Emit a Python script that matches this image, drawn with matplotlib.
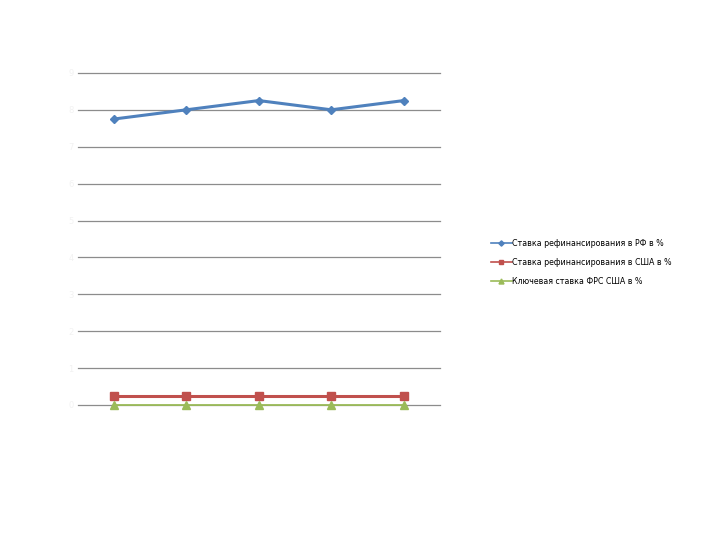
import matplotlib
matplotlib.use("Agg")
import matplotlib.pyplot as plt

categories = ["1", "2", "3", "4", "5"]
rf_rate = [7.75, 8.0, 8.25, 8.0, 8.25]
us_rate = [0.25, 0.25, 0.25, 0.25, 0.25]
frs_rate = [0.0, 0.0, 0.0, 0.0, 0.0]
yticks = list(range(0, 10))

labels = ["Ставка рефинансирования в РФ в %",
          "Ставка рефинансирования в США в %",
          "Ключевая ставка ФРС США в %"]

fig = plt.figure(figsize=(7.2, 5.4), dpi=100)
ax = fig.add_axes([0.108, 0.25, 0.503, 0.615])
x = list(range(len(categories)))
ax.plot(x, rf_rate, color="#4F81BD", lw=2.2, marker="D", ms=4.5, label=labels[0], zorder=3)
ax.plot(x, us_rate, color="#C0504D", lw=2.2, marker="s", ms=6, label=labels[1], zorder=3)
ax.plot(x, frs_rate, color="#9BBB59", lw=1.3, marker="^", ms=6, label=labels[2], zorder=3,
        clip_on=False)
ax.set_xlim(-0.5, 4.5)
ax.set_ylim(0, 9)
ax.set_yticks(yticks)
ax.set_xticks(x)
ax.set_xticklabels(categories, color="#ffffff", fontsize=6)
ax.set_yticklabels([str(v) for v in yticks], color="#f2f2f2", fontsize=6)
ax.tick_params(length=0, pad=3)
ax.grid(axis="y", color="#8c8c8c", lw=0.9)
for gl in ax.get_ygridlines():
    gl.set_clip_on(False)
ax.set_axisbelow(True)
for s in ax.spines.values():
    s.set_visible(False)

leg = fig.legend(loc="center left", bbox_to_anchor=(0.672, 0.514), frameon=False,
                 fontsize=5.7, handlelength=2.6, handletextpad=0.1, labelspacing=1.3,
                 markerscale=0.6)
for ln in leg.get_lines():
    ln.set_linewidth(1.2)
fig.savefig("out.png", dpi=100)
